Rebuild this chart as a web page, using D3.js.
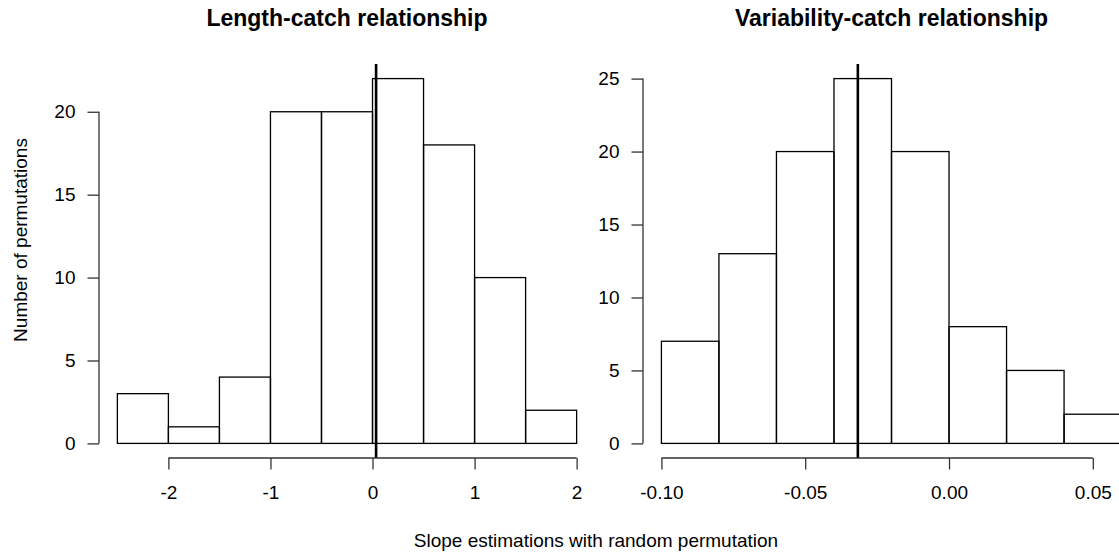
<!DOCTYPE html>
<html>
<head>
<meta charset="utf-8">
<script src="https://d3js.org/d3.v7.min.js"></script>
<style>
body { margin: 0; background: #fff; }
svg { display: block; font-family: "Liberation Sans", Arial, sans-serif; }
</style>
</head>
<body>
<div id="chart"></div>
<script>
// left panel: slope of length-catch with permuted data
var lenBreaks = [-2.5, -2, -1.5, -1, -0.5, 0, 0.5, 1, 1.5, 2];
var lenCounts = [3, 1, 4, 20, 20, 22, 18, 10, 2];
var lenObserved = 0.035;
var lenXTicks = [-2, -1, 0, 1, 2];
var lenYTicks = [0, 5, 10, 15, 20];

// right panel: slope of variability-catch
var varBreaks = [-0.10, -0.08, -0.06, -0.04, -0.02, 0.00, 0.02, 0.04, 0.06];
var varCounts = [7, 13, 20, 25, 20, 8, 5, 2];
var varObserved = -0.0317;
var varXTicks = [-0.10, -0.05, 0.00, 0.05];
var varYTicks = [0, 5, 10, 15, 20, 25];

var titles = ["Length-catch relationship", "Variability-catch relationship"];
var xTitle = "Slope estimations with random permutation";
var yTitle = "Number of permutations";

var W = 1119, H = 552;
var fs = 19;

var svg = d3.select("#chart").append("svg")
	.attr("width", W)
	.attr("height", H);

// R style: extend range by 4% on each side
function pad(lo, hi) {
	var d = (hi - lo) * 0.04;
	return [lo - d, hi + d];
}

// plain hyphen instead of the unicode minus d3 puts in
function rfmt(spec) {
	var f = d3.format(spec);
	return function(d) { return f(d).replace("\u2212", "-"); };
}

function panel(opt) {
	var x = d3.scaleLinear()
		.domain(pad(opt.breaks[0], opt.breaks[opt.breaks.length - 1]))
		.range([opt.left, opt.right]);
	var y = d3.scaleLinear()
		.domain(pad(0, d3.max(opt.counts)))
		.range([458, 64]);

	var g = svg.append("g");

	// bars
	g.selectAll("rect.bar")
		.data(opt.counts)
		.enter().append("rect")
			.attr("class", "bar")
			.attr("x", function(d, i) { return x(opt.breaks[i]); })
			.attr("y", function(d) { return y(d); })
			.attr("width", function(d, i) { return x(opt.breaks[i + 1]) - x(opt.breaks[i]); })
			.attr("height", function(d) { return y(0) - y(d); })
			.attr("fill", "none")
			.attr("stroke", "#000")
			.attr("stroke-width", 1.3);

	// observed slope
	g.append("line")
		.attr("x1", x(opt.observed)).attr("x2", x(opt.observed))
		.attr("y1", 64).attr("y2", 458)
		.attr("stroke", "#000")
		.attr("stroke-width", 2.6);

	// x axis
	var xa = g.append("g")
		.attr("transform", "translate(0,458)")
		.call(d3.axisBottom(x).tickValues(opt.xTicks).tickFormat(opt.fmt).tickSize(11.5).tickSizeOuter(0).tickPadding(16));
	// y axis
	var ya = g.append("g")
		.attr("transform", "translate(" + opt.left + ",0)")
		.call(d3.axisLeft(y).tickValues(opt.yTicks).tickSize(11.5).tickSizeOuter(0).tickPadding(12));

	[xa, ya].forEach(function(a) {
		a.select(".domain").attr("stroke", "#333").attr("stroke-width", 1.3);
		a.selectAll(".tick line").attr("stroke", "#333").attr("stroke-width", 1.3);
		a.selectAll(".tick text").attr("fill", "#000").attr("font-size", fs + "px").attr("font-family", null);
	});
	// axis lines only span the ticks, like R
	xa.select(".domain").attr("d", "M" + x(opt.xTicks[0]) + ",0H" + x(opt.xTicks[opt.xTicks.length - 1]));
	ya.select(".domain").attr("d", "M0," + y(opt.yTicks[0]) + "V" + y(opt.yTicks[opt.yTicks.length - 1]));

	g.append("text")
		.attr("x", (opt.left + opt.right) / 2)
		.attr("y", 26)
		.attr("text-anchor", "middle")
		.attr("font-size", "23px")
		.attr("font-weight", "bold")
		.text(opt.title);
}

panel({
	breaks: lenBreaks, counts: lenCounts, observed: lenObserved,
	xTicks: lenXTicks, yTicks: lenYTicks, fmt: rfmt("d"),
	left: 99, right: 595, title: titles[0]
});
panel({
	breaks: varBreaks, counts: varCounts, observed: varObserved,
	xTicks: varXTicks, yTicks: varYTicks, fmt: rfmt(".2f"),
	left: 643, right: 1140, title: titles[1]
});

svg.append("text")
	.attr("x", 596)
	.attr("y", 547)
	.attr("text-anchor", "middle")
	.attr("font-size", fs + "px")
	.text(xTitle);

svg.append("text")
	.attr("transform", "translate(27,240) rotate(-90)")
	.attr("text-anchor", "middle")
	.attr("font-size", fs + "px")
	.text(yTitle);
</script>
</body>
</html>
